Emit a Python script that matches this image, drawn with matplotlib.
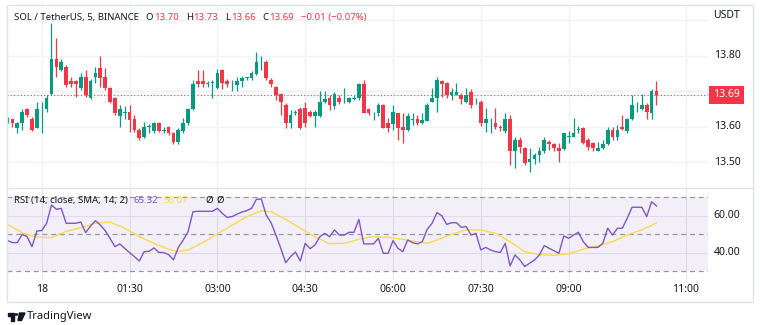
import numpy as np
import pandas as pd
import matplotlib
matplotlib.use('Agg')
import matplotlib.pyplot as plt
import matplotlib.dates as mdates
from matplotlib.patches import Rectangle, Polygon, Circle
from matplotlib.lines import Line2D

plt.rcParams['font.family'] = ['Noto Sans', 'DejaVu Sans']

# SOL/USDT 5-minute candles, Binance
times = pd.date_range('2023-09-17 23:25', periods=134, freq='5min')
opens = [13.616, 13.621, 13.597, 13.611, 13.650, 13.622, 13.597, 13.649, 13.649, 13.691,
         13.790, 13.760, 13.769, 13.730, 13.730, 13.708, 13.739, 13.682, 13.739, 13.764,
         13.739, 13.708, 13.680, 13.630, 13.639, 13.642, 13.622, 13.591, 13.570, 13.599,
         13.589, 13.611, 13.589, 13.598, 13.581, 13.558, 13.589, 13.609, 13.649, 13.730,
         13.730, 13.721, 13.723, 13.708, 13.760, 13.730, 13.719, 13.717, 13.730, 13.738,
         13.736, 13.748, 13.781, 13.783, 13.731, 13.711, 13.691, 13.661, 13.611, 13.639,
         13.650, 13.652, 13.640, 13.630, 13.630, 13.670, 13.680, 13.658, 13.680, 13.669,
         13.670, 13.679, 13.680, 13.720, 13.649, 13.638, 13.638, 13.661, 13.609, 13.608,
         13.638, 13.600, 13.591, 13.620, 13.621, 13.611, 13.617, 13.670, 13.680, 13.730,
         13.722, 13.690, 13.690, 13.689, 13.670, 13.699, 13.669, 13.670, 13.611, 13.610,
         13.609, 13.598, 13.589, 13.621, 13.530, 13.561, 13.539, 13.499, 13.508, 13.520,
         13.530, 13.558, 13.551, 13.539, 13.536, 13.571, 13.570, 13.591, 13.595, 13.561,
         13.553, 13.532, 13.539, 13.551, 13.591, 13.570, 13.600, 13.589, 13.621, 13.660,
         13.649, 13.661, 13.639, 13.700]
highs = [13.628, 13.622, 13.614, 13.650, 13.652, 13.628, 13.670, 13.670, 13.689, 13.891,
         13.849, 13.790, 13.774, 13.741, 13.731, 13.750, 13.760, 13.735, 13.769, 13.799,
         13.764, 13.711, 13.685, 13.661, 13.658, 13.661, 13.633, 13.595, 13.614, 13.608,
         13.614, 13.614, 13.600, 13.602, 13.586, 13.597, 13.623, 13.652, 13.731, 13.760,
         13.760, 13.729, 13.731, 13.762, 13.762, 13.733, 13.731, 13.741, 13.743, 13.741,
         13.758, 13.811, 13.799, 13.788, 13.738, 13.715, 13.694, 13.666, 13.647, 13.647,
         13.656, 13.670, 13.647, 13.647, 13.700, 13.700, 13.689, 13.699, 13.689, 13.708,
         13.685, 13.689, 13.724, 13.731, 13.652, 13.642, 13.666, 13.664, 13.623, 13.661,
         13.639, 13.638, 13.639, 13.639, 13.633, 13.639, 13.666, 13.708, 13.741, 13.731,
         13.727, 13.708, 13.722, 13.694, 13.708, 13.705, 13.680, 13.675, 13.652, 13.623,
         13.652, 13.605, 13.639, 13.633, 13.572, 13.572, 13.544, 13.539, 13.525, 13.544,
         13.572, 13.562, 13.555, 13.553, 13.583, 13.589, 13.623, 13.602, 13.600, 13.567,
         13.558, 13.558, 13.562, 13.600, 13.600, 13.605, 13.633, 13.623, 13.689, 13.670,
         13.692, 13.666, 13.705, 13.730]
lows = [13.610, 13.600, 13.583, 13.591, 13.628, 13.589, 13.595, 13.583, 13.642, 13.689,
        13.741, 13.757, 13.711, 13.711, 13.685, 13.703, 13.683, 13.678, 13.722, 13.711,
        13.703, 13.666, 13.633, 13.600, 13.621, 13.586, 13.586, 13.562, 13.567, 13.583,
        13.583, 13.586, 13.583, 13.577, 13.551, 13.551, 13.583, 13.605, 13.647, 13.711,
        13.711, 13.711, 13.680, 13.705, 13.705, 13.711, 13.701, 13.701, 13.711, 13.731,
        13.731, 13.746, 13.760, 13.731, 13.711, 13.675, 13.633, 13.597, 13.595, 13.633,
        13.592, 13.600, 13.628, 13.600, 13.628, 13.666, 13.647, 13.649, 13.664, 13.666,
        13.668, 13.675, 13.675, 13.638, 13.633, 13.619, 13.630, 13.595, 13.586, 13.591,
        13.562, 13.553, 13.589, 13.605, 13.605, 13.608, 13.617, 13.669, 13.642, 13.685,
        13.680, 13.675, 13.689, 13.664, 13.666, 13.652, 13.664, 13.602, 13.586, 13.583,
        13.592, 13.589, 13.583, 13.492, 13.483, 13.525, 13.492, 13.473, 13.495, 13.499,
        13.525, 13.534, 13.532, 13.501, 13.534, 13.553, 13.570, 13.583, 13.551, 13.534,
        13.530, 13.530, 13.536, 13.548, 13.562, 13.562, 13.591, 13.583, 13.619, 13.642,
        13.647, 13.621, 13.621, 13.660]
closes = [13.621, 13.611, 13.611, 13.640, 13.633, 13.591, 13.650, 13.651, 13.680, 13.790,
          13.767, 13.781, 13.717, 13.719, 13.719, 13.739, 13.689, 13.729, 13.750, 13.738,
          13.708, 13.670, 13.639, 13.650, 13.640, 13.619, 13.591, 13.567, 13.600, 13.600,
          13.611, 13.589, 13.589, 13.581, 13.558, 13.591, 13.611, 13.649, 13.720, 13.720,
          13.720, 13.722, 13.724, 13.752, 13.722, 13.720, 13.720, 13.730, 13.736, 13.739,
          13.750, 13.781, 13.783, 13.736, 13.719, 13.689, 13.670, 13.609, 13.633, 13.640,
          13.597, 13.609, 13.630, 13.640, 13.670, 13.677, 13.661, 13.691, 13.670, 13.670,
          13.680, 13.680, 13.720, 13.639, 13.638, 13.639, 13.661, 13.597, 13.597, 13.640,
          13.597, 13.591, 13.630, 13.621, 13.611, 13.619, 13.661, 13.680, 13.731, 13.720,
          13.689, 13.699, 13.699, 13.677, 13.689, 13.661, 13.670, 13.609, 13.621, 13.611,
          13.600, 13.595, 13.621, 13.530, 13.561, 13.542, 13.497, 13.508, 13.520, 13.530,
          13.561, 13.551, 13.539, 13.530, 13.581, 13.572, 13.581, 13.592, 13.555, 13.542,
          13.539, 13.539, 13.551, 13.591, 13.570, 13.591, 13.592, 13.621, 13.661, 13.661,
          13.661, 13.642, 13.700, 13.690]

# RSI(14) per candle and its 14-period SMA (sampled)
rsi = [46.5, 45.4, 45.4, 49.9, 48.6, 43.2, 51.7, 51.9, 55.9, 65.8,
       63.5, 64.0, 55.9, 55.9, 55.9, 56.6, 50.8, 54.4, 57.3, 55.0,
       51.9, 47.7, 43.2, 44.7, 42.3, 40.0, 37.8, 35.4, 40.5, 40.7,
       42.5, 40.1, 40.0, 38.9, 36.0, 42.8, 46.8, 51.4, 62.2, 62.4,
       62.4, 62.4, 62.4, 64.0, 61.3, 59.1, 59.5, 60.8, 62.0, 62.7,
       64.0, 68.9, 69.1, 60.4, 56.2, 49.5, 42.3, 34.5, 37.8, 40.3,
       35.4, 45.0, 42.1, 44.1, 48.6, 50.4, 48.6, 52.3, 49.5, 49.5,
       51.0, 51.0, 58.0, 44.7, 44.7, 44.7, 47.7, 39.6, 39.6, 46.5,
       42.3, 40.5, 46.8, 45.4, 44.7, 45.9, 52.6, 55.9, 61.7, 60.0,
       55.3, 56.2, 56.2, 53.7, 54.1, 49.5, 50.4, 41.4, 42.8, 41.4,
       40.5, 40.1, 45.0, 32.7, 38.7, 36.0, 32.4, 34.2, 36.0, 38.7,
       43.8, 42.3, 41.0, 39.6, 49.0, 47.7, 49.5, 51.0, 45.9, 42.8,
       42.8, 42.8, 45.0, 53.2, 49.5, 53.2, 53.2, 58.6, 64.6, 64.6,
       64.6, 59.5, 67.6, 65.32]
sma_idx = [0, 3, 6, 9, 12, 15, 18, 21, 24, 27, 30, 33, 35, 37, 40, 43, 46, 49, 52, 54,
           57, 60, 63, 66, 69, 72, 75, 78, 81, 84, 86, 88, 91, 94, 97, 100, 103, 106,
           109, 112, 115, 118, 121, 124, 127, 130, 133]
sma = [55.3, 50.8, 48.3, 48.1, 51.5, 53.5, 55.9, 56.6, 53.2, 48.6, 45.0, 41.8, 40.5,
       41.4, 45.4, 50.1, 54.8, 59.5, 62.7, 62.2, 58.0, 53.2, 48.6, 44.8, 45.0, 47.2,
       48.6, 48.3, 47.2, 45.9, 45.0, 46.8, 49.9, 52.3, 52.3, 50.4, 45.9, 40.5, 38.9,
       38.5, 39.3, 41.8, 43.6, 45.9, 49.5, 52.3, 56.07]

tick_times = ['2023-09-18 00:00', '2023-09-18 01:30', '2023-09-18 03:00', '2023-09-18 04:30',
              '2023-09-18 06:00', '2023-09-18 07:30', '2023-09-18 09:00', '2023-09-18 11:00']
tick_labels = ['18', '01:30', '03:00', '04:30', '06:00', '07:30', '09:00', '11:00']
price_grid = [13.50, 13.60, 13.70, 13.80, 13.90]
price_labels = [13.50, 13.60, 13.80]

UP = '#089981'
DOWN = '#F23645'
TXT = '#131722'
GRID = '#F0F3FA'
W, H = 760, 325


def fx(px):
    return px / W


def fy(py):
    return 1 - py / H


t = mdates.date2num(times)
tk = mdates.date2num(pd.to_datetime(tick_times))
o, h, l, c = map(np.array, (opens, highs, lows, closes))
colors = np.where(c >= o, UP, DOWN)
minute = 1 / 1440

fig = plt.figure(figsize=(W / 100, H / 100), dpi=100)
fig.patch.set_facecolor('white')

# price pane
ax = fig.add_axes([fx(7), fy(188), fx(701), 183 / H])
ax.set_xlim(t[0] - 0.6 * minute, t[-1] + 52.8 * minute)
ax.set_ylim(13.427, 13.943)
ax.set_xticks(tk)
ax.set_yticks(price_grid)
ax.grid(True, color=GRID, lw=1)
ax.tick_params(length=0, labelbottom=False, labelleft=False)
for s in ax.spines.values():
    s.set_visible(False)
ax.set_axisbelow(True)

ax.vlines(t, l, h, colors=colors, lw=0.9, zorder=2)
body_low = np.minimum(o, c)
body_h = np.maximum(np.abs(c - o), 0.0015)
ax.bar(t, body_h, width=3.8 * minute, bottom=body_low, color=colors, lw=0, zorder=3)

ax.axhline(c[-1], color=DOWN, lw=0.8, ls=(0, (1, 2)), zorder=1)

ytr = ax.get_yaxis_transform()
for p in price_labels:
    ax.text(fx(727 - 7) / fx(701), p, f'{p:.2f}', transform=ytr, ha='center', va='center',
            fontsize=7.5, color=TXT, clip_on=False)
ax.text(fx(726.5 - 7) / fx(701), c[-1], f'{c[-1]:.2f}', transform=ytr, ha='center',
        va='center', fontsize=7.5, color='white', fontweight='bold', clip_on=False,
        bbox=dict(boxstyle='square,pad=0.35', fc=DOWN, ec='none'))
fig.text(fx(727), fy(16), 'USDT', ha='center', va='center', fontsize=7.5, color=TXT)

# RSI pane
ax2 = fig.add_axes([fx(7), fy(280), fx(701), 92 / H])
ax2.set_xlim(ax.get_xlim())
ax2.set_ylim(25.1, 75.05)
ax2.set_xticks(tk)
ax2.set_yticks([40, 60])
ax2.grid(True, color='#E9E5F3', lw=0.8)
ax2.tick_params(length=0, labelbottom=False, labelleft=False)
for s in ax2.spines.values():
    s.set_visible(False)
ax2.set_axisbelow(True)
ax2.axhspan(30, 70, color='#7E57C2', alpha=0.09, lw=0)
for v in (70, 50, 30):
    ax2.axhline(v, color='#9598A1', lw=0.9, ls=(0, (4, 3)))
ax2.plot(t[sma_idx], sma, color='#F7DA4F', lw=1)
ax2.plot(t, rsi, color='#7E57C2', lw=1)

ytr2 = ax2.get_yaxis_transform()
for v in (60, 40):
    ax2.text(fx(727 - 7) / fx(701), v, f'{v:.2f}', transform=ytr2, ha='center',
             va='center', fontsize=7.5, color=TXT, clip_on=False)

xtr2 = ax2.get_xaxis_transform()
for x, lab in zip(tk, tick_labels):
    ax2.text(x, -10 / 92, lab, transform=xtr2, ha='center', va='center',
             fontsize=7.5, color=TXT, clip_on=False)


def chain(axis, first, pieces, size):
    # lay text pieces out one after another on the same baseline
    prev = first
    for s, col, gap in pieces:
        prev = axis.annotate(s, xy=(1, 0), xycoords=prev, xytext=(gap, 0),
                             textcoords='offset points', ha='left', va='bottom',
                             fontsize=size, color=col, annotation_clip=False)
    return prev


# legend lines
chg = c[-1] - c[-2]
pct = chg / c[-2] * 100
hdr = ax.text(fx(14 - 7) / fx(701), 1 - 12.3 / 183, 'SOL / TetherUS, 5, BINANCE',
              transform=ax.transAxes, ha='left', va='center', fontsize=6.9, color=TXT)
chain(ax, hdr, [('O', TXT, 5), (f'{o[-1]:.2f}', DOWN, 0.5),
                ('H', TXT, 5), (f'{h[-1]:.2f}', DOWN, 0.5),
                ('L', TXT, 5), (f'{l[-1]:.2f}', DOWN, 0.5),
                ('C', TXT, 5), (f'{c[-1]:.2f}', DOWN, 0.5),
                (f'{chg:+.2f} ({pct:+.2f}%)'.replace('-', '\u2212'), DOWN, 5)], 6.9)

rsi_hdr = ax2.text(fx(14 - 7) / fx(701), 1 - 12.7 / 92, 'RSI (14, close, SMA, 14, 2)',
                   transform=ax2.transAxes, ha='left', va='center', fontsize=6.9, color=TXT)
chain(ax2, rsi_hdr, [(f'{rsi[-1]:.2f}', '#7E57C2', 4), (f'{sma[-1]:.2f}', '#F7DA4F', 4),
                     ('\u00d8', TXT, 12), ('\u00d8', TXT, 3)], 6.9)

# widget frame and pane separator
fig.add_artist(Rectangle((fx(7), fy(302)), fx(746), 297 / H, fill=False,
                         ec='#E0E3EB', lw=1, transform=fig.transFigure))
fig.add_artist(Line2D([fx(7), fx(753)], [fy(188), fy(188)], color='#E0E3EB', lw=1,
                      transform=fig.transFigure))

# footer logo
fig.add_artist(Rectangle((fx(7.5), fy(315.5)), fx(7), 2.5 / H, color=TXT,
                         transform=fig.transFigure))
fig.add_artist(Rectangle((fx(10.5), fy(320.5)), fx(3), 7 / H, color=TXT,
                         transform=fig.transFigure))
fig.add_artist(Circle((fx(16.3), fy(314.5)), fx(1.4), color=TXT, transform=fig.transFigure))
fig.add_artist(Polygon([(fx(19.5), fy(313)), (fx(25), fy(313)), (fx(21.5), fy(320.5)),
                        (fx(18), fy(320.5))], closed=True, color=TXT,
                       transform=fig.transFigure))
fig.text(fx(27), fy(316.5), 'TradingView', ha='left', va='center', fontsize=8, color=TXT)

fig.savefig('out.png', dpi=100, facecolor='white')
